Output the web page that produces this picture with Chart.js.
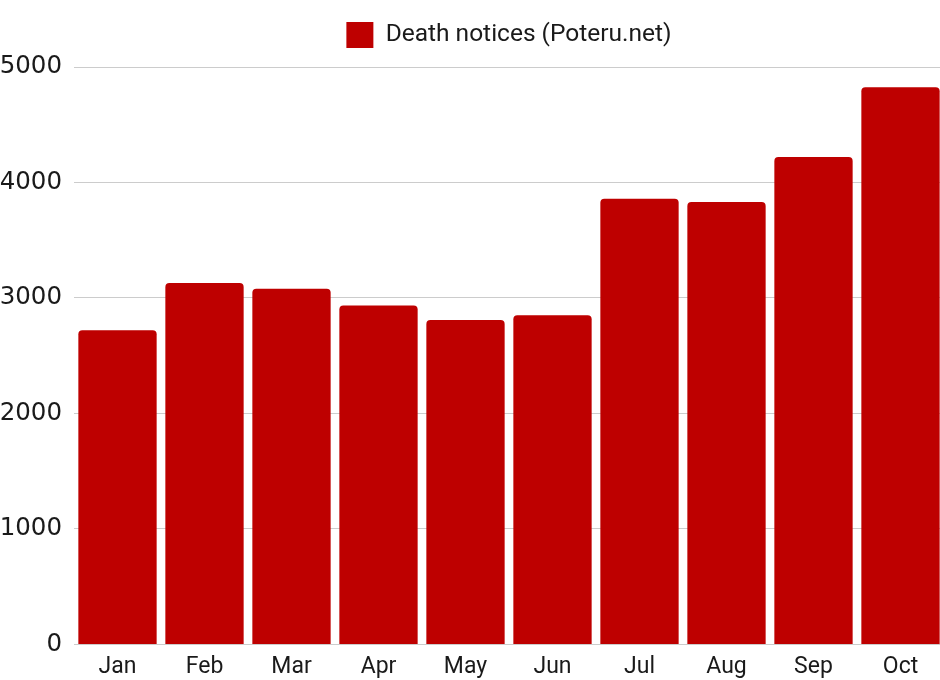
<!DOCTYPE html>
<html>
<head>
<meta charset="utf-8">
<script src="https://cdn.jsdelivr.net/npm/chart.js@4"></script>
<style>
  html, body { margin: 0; padding: 0; background: #fff; overflow: hidden; }
  #wrap { width: 944px; height: 680px; position: relative; }
</style>
</head>
<body>
<div id="wrap"><canvas id="chart"></canvas></div>
<script>
  var MONTHS = ['Jan', 'Feb', 'Mar', 'Apr', 'May', 'Jun', 'Jul', 'Aug', 'Sep', 'Oct'];
  var NOTICES = [2720, 3130, 3080, 2935, 2810, 2850, 3860, 3830, 4220, 4825];
  var SERIES_LABEL = 'Death notices (Poteru.net)';

  var RED = '#BE0000';
  var TEXT = '#1a1a1a';
  var GRID = '#cccccc';
  var LABEL_FONT = 'Roboto, sans-serif';

  // push the plot area a bit further below the legend
  var legendGap = {
    id: 'legendGap',
    beforeInit: function(chart) {
      var origFit = chart.legend.fit;
      chart.legend.fit = function() {
        origFit.call(this);
        this.height += 9;
      };
    }
  };

  new Chart(document.getElementById('chart').getContext('2d'), {
    type: 'bar',
    data: {
      labels: MONTHS,
      datasets: [{
        label: SERIES_LABEL,
        data: NOTICES,
        backgroundColor: RED,
        borderRadius: 4,
        borderSkipped: 'start',
        barPercentage: 0.9,
        categoryPercentage: 1
      }]
    },
    options: {
      responsive: true,
      maintainAspectRatio: false,
      animation: false,
      layout: { padding: { top: 12, bottom: -10, left: 0, right: 0 } },
      plugins: {
        legend: {
          position: 'top',
          fullSize: false,
          labels: {
            color: TEXT,
            boxWidth: 27,
            boxHeight: 26,
            padding: 10,
            font: { family: LABEL_FONT, size: 24.5 }
          }
        },
        tooltip: { enabled: false }
      },
      scales: {
        x: {
          grid: { display: false, drawTicks: false },
          border: { color: GRID },
          ticks: {
            color: TEXT,
            padding: 9,
            font: { family: LABEL_FONT, size: 23 }
          }
        },
        y: {
          min: 0,
          max: 5000,
          grid: { color: GRID, drawTicks: false },
          border: { display: false },
          afterFit: function(scale) { scale.width = 74; },
          ticks: {
            stepSize: 1000,
            color: TEXT,
            padding: 12,
            font: { family: '"DejaVu Sans", sans-serif', size: 24.5 },
            callback: function(v) { return String(v); }
          }
        }
      }
    },
    plugins: [legendGap]
  });
</script>
</body>
</html>
